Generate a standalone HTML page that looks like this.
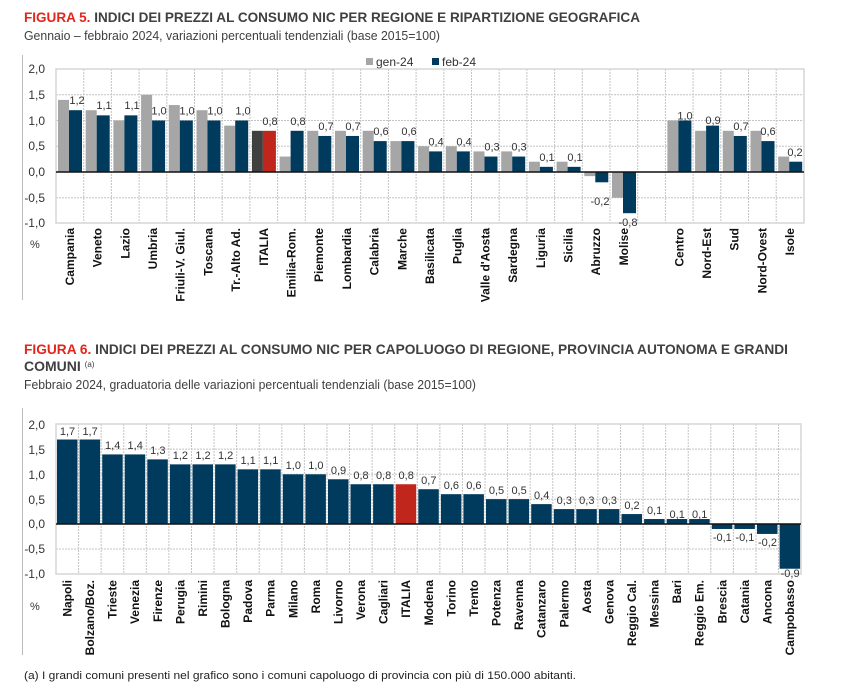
<!DOCTYPE html>
<html><head><meta charset="utf-8"><style>
html,body{margin:0;padding:0;background:#fff;}
svg{display:block;font-family:"Liberation Sans",Arial,sans-serif;}
.t{font-weight:bold;font-size:14px;fill:#404040}
.r{fill:#e3261b}
.s{font-size:12.5px;fill:#404040}
.yt{font-size:12px;fill:#333;text-anchor:end}
.v{font-size:11px;fill:#333;text-anchor:middle}
.c{font-size:12px;font-weight:bold;fill:#111;text-anchor:end}
.g{stroke:#c4c4c4;stroke-width:1;stroke-dasharray:2,1;fill:none}
</style></head><body>
<svg width="841" height="699" viewBox="0 0 841 699">
<text x="24" y="22" class="t" textLength="616" lengthAdjust="spacingAndGlyphs"><tspan class="r">FIGURA 5.</tspan> INDICI DEI PREZZI AL CONSUMO NIC PER REGIONE E RIPARTIZIONE GEOGRAFICA</text>
<text x="24" y="40" class="s" textLength="416" lengthAdjust="spacingAndGlyphs">Gennaio – febbraio 2024, variazioni percentuali tendenziali (base 2015=100)</text>
<line x1="22.5" y1="55" x2="22.5" y2="300" stroke="#bbb"/>
<!-- legend -->
<rect x="366" y="58" width="7" height="7" fill="#a6a6a6"/><text x="376" y="66" font-size="12" fill="#333">gen-24</text>
<rect x="432" y="58" width="7" height="7" fill="#003a5c"/><text x="442" y="66" font-size="12" fill="#333">feb-24</text>
<!-- chart1 grid -->
<g class="g">
<line x1="56" y1="94.75" x2="804" y2="94.75"/><line x1="56" y1="120.5" x2="804" y2="120.5"/><line x1="56" y1="146.25" x2="804" y2="146.25"/><line x1="56" y1="197.75" x2="804" y2="197.75"/>
<path d="M83.7 69V223M111.4 69V223M139.1 69V223M166.8 69V223M194.5 69V223M222.2 69V223M249.9 69V223M277.6 69V223M305.3 69V223M333 69V223M360.7 69V223M388.4 69V223M416.1 69V223M443.8 69V223M471.5 69V223M499.2 69V223M526.9 69V223M554.6 69V223M582.3 69V223M610 69V223M637.7 69V223M665.4 69V223M693.1 69V223M720.8 69V223M748.5 69V223M776.2 69V223"/>
</g>
<rect x="56" y="69" width="748" height="154" fill="none" stroke="#d6d6d6" stroke-width="1.5"/>
<g transform="translate(0,172) scale(1,-51.5)">
<g fill="#a6a6a6">
<rect x="58" y="0" width="11" height="1.4"/><rect x="85.7" y="0" width="11" height="1.2"/><rect x="113.4" y="0" width="11" height="1.0"/><rect x="141.1" y="0" width="11" height="1.5"/><rect x="168.8" y="0" width="11" height="1.3"/><rect x="196.5" y="0" width="11" height="1.2"/><rect x="224.2" y="0" width="11" height="0.9"/><rect x="251.9" y="0" width="11" height="0.8" fill="#404040"/><rect x="279.6" y="0" width="11" height="0.3"/><rect x="307.3" y="0" width="11" height="0.8"/><rect x="335" y="0" width="11" height="0.8"/><rect x="362.7" y="0" width="11" height="0.8"/><rect x="390.4" y="0" width="11" height="0.6"/><rect x="418.1" y="0" width="11" height="0.5"/><rect x="445.8" y="0" width="11" height="0.5"/><rect x="473.5" y="0" width="11" height="0.4"/><rect x="501.2" y="0" width="11" height="0.4"/><rect x="528.9" y="0" width="11" height="0.2"/><rect x="556.6" y="0" width="11" height="0.2"/><rect x="584.3" y="-0.08" width="11" height="0.08"/><rect x="612" y="-0.5" width="11" height="0.5"/><rect x="667.4" y="0" width="11" height="1.0"/><rect x="695.1" y="0" width="11" height="0.8"/><rect x="722.8" y="0" width="11" height="0.8"/><rect x="750.5" y="0" width="11" height="0.8"/><rect x="778.2" y="0" width="11" height="0.3"/>
</g>
<g fill="#003a5c">
<rect x="69" y="0" width="13" height="1.2"/><rect x="96.7" y="0" width="13" height="1.1"/><rect x="124.4" y="0" width="13" height="1.1"/><rect x="152.1" y="0" width="13" height="1.0"/><rect x="179.8" y="0" width="13" height="1.0"/><rect x="207.5" y="0" width="13" height="1.0"/><rect x="235.2" y="0" width="13" height="1.0"/><rect x="262.9" y="0" width="13" height="0.8" fill="#c0261b"/><rect x="290.6" y="0" width="13" height="0.8"/><rect x="318.3" y="0" width="13" height="0.7"/><rect x="346" y="0" width="13" height="0.7"/><rect x="373.7" y="0" width="13" height="0.6"/><rect x="401.4" y="0" width="13" height="0.6"/><rect x="429.1" y="0" width="13" height="0.4"/><rect x="456.8" y="0" width="13" height="0.4"/><rect x="484.5" y="0" width="13" height="0.3"/><rect x="512.2" y="0" width="13" height="0.3"/><rect x="539.9" y="0" width="13" height="0.1"/><rect x="567.6" y="0" width="13" height="0.1"/><rect x="595.3" y="-0.2" width="13" height="0.2"/><rect x="623" y="-0.8" width="13" height="0.8"/><rect x="678.4" y="0" width="13" height="1.0"/><rect x="706.1" y="0" width="13" height="0.9"/><rect x="733.8" y="0" width="13" height="0.7"/><rect x="761.5" y="0" width="13" height="0.6"/><rect x="789.2" y="0" width="13" height="0.2"/>
</g></g>
<line x1="56" y1="172" x2="804" y2="172" stroke="#111" stroke-width="1.5"/>
<g class="yt"><text x="45" y="73">2,0</text><text x="45" y="99">1,5</text><text x="45" y="125">1,0</text><text x="45" y="150">0,5</text><text x="45" y="176">0,0</text><text x="45" y="202">-0,5</text><text x="45" y="227">-1,0</text></g>
<text x="30" y="248" font-size="11" fill="#333">%</text>
<g class="v">
<text x="77" y="104">1,2</text><text x="104" y="109">1,1</text><text x="132" y="109">1,1</text><text x="159" y="114.5">1,0</text><text x="187" y="114.5">1,0</text><text x="215" y="114.5">1,0</text><text x="243" y="114.5">1,0</text><text x="270" y="125">0,8</text><text x="298" y="125">0,8</text><text x="326" y="130">0,7</text><text x="353" y="130">0,7</text><text x="381" y="135">0,6</text><text x="409" y="135">0,6</text><text x="436" y="145.5">0,4</text><text x="464" y="145.5">0,4</text><text x="492" y="150.5">0,3</text><text x="519" y="150.5">0,3</text><text x="547" y="161">0,1</text><text x="575" y="161">0,1</text><text x="600" y="205">-0,2</text><text x="628" y="226">-0,8</text><text x="685" y="119.5">1,0</text><text x="713" y="124">0,9</text><text x="741" y="130">0,7</text><text x="768" y="135">0,6</text><text x="795" y="156">0,2</text>
</g>
<g class="c">
<text transform="translate(74,228) rotate(-90)">Campania</text><text transform="translate(101.6,228) rotate(-90)">Veneto</text><text transform="translate(129.3,228) rotate(-90)">Lazio</text><text transform="translate(157,228) rotate(-90)">Umbria</text><text transform="translate(184.7,228) rotate(-90)">Friuli-V. Giul.</text><text transform="translate(212.4,228) rotate(-90)">Toscana</text><text transform="translate(240.1,228) rotate(-90)">Tr.-Alto Ad.</text><text transform="translate(267.8,228) rotate(-90)">ITALIA</text><text transform="translate(295.5,228) rotate(-90)">Emilia-Rom.</text><text transform="translate(323.2,228) rotate(-90)">Piemonte</text><text transform="translate(350.9,228) rotate(-90)">Lombardia</text><text transform="translate(378.6,228) rotate(-90)">Calabria</text><text transform="translate(406.3,228) rotate(-90)">Marche</text><text transform="translate(434,228) rotate(-90)">Basilicata</text><text transform="translate(461.7,228) rotate(-90)">Puglia</text><text transform="translate(489.4,228) rotate(-90)">Valle d'Aosta</text><text transform="translate(517.1,228) rotate(-90)">Sardegna</text><text transform="translate(544.8,228) rotate(-90)">Liguria</text><text transform="translate(572.5,228) rotate(-90)">Sicilia</text><text transform="translate(600.2,228) rotate(-90)">Abruzzo</text><text transform="translate(627.9,228) rotate(-90)">Molise</text><text transform="translate(683.3,228) rotate(-90)">Centro</text><text transform="translate(711,228) rotate(-90)">Nord-Est</text><text transform="translate(738.7,228) rotate(-90)">Sud</text><text transform="translate(766.4,228) rotate(-90)">Nord-Ovest</text><text transform="translate(794.1,228) rotate(-90)">Isole</text>
</g>

<!-- FIGURE 6 -->
<text x="24" y="354" class="t" textLength="764" lengthAdjust="spacingAndGlyphs"><tspan class="r">FIGURA 6.</tspan> INDICI DEI PREZZI AL CONSUMO NIC PER CAPOLUOGO DI REGIONE, PROVINCIA AUTONOMA E GRANDI</text>
<text x="24" y="371" class="t">COMUNI <tspan font-size="8" font-weight="normal" dy="-4">(a)</tspan></text>
<text x="24" y="389" class="s" textLength="452" lengthAdjust="spacingAndGlyphs">Febbraio 2024, graduatoria delle variazioni percentuali tendenziali (base 2015=100)</text>
<line x1="22.5" y1="408" x2="22.5" y2="655" stroke="#bbb"/>
<g class="g">
<line x1="56" y1="449.1" x2="801" y2="449.1"/><line x1="56" y1="474.3" x2="801" y2="474.3"/><line x1="56" y1="499.2" x2="801" y2="499.2"/><line x1="56" y1="549" x2="801" y2="549"/>
<path d="M78.58 424V574M101.16 424V574M123.74 424V574M146.32 424V574M168.9 424V574M191.48 424V574M214.06 424V574M236.64 424V574M259.22 424V574M281.8 424V574M304.38 424V574M326.96 424V574M349.54 424V574M372.12 424V574M394.7 424V574M417.28 424V574M439.86 424V574M462.44 424V574M485.02 424V574M507.6 424V574M530.18 424V574M552.76 424V574M575.34 424V574M597.92 424V574M620.5 424V574M643.08 424V574M665.66 424V574M688.24 424V574M710.82 424V574M733.4 424V574M755.98 424V574M778.56 424V574"/>
</g>
<rect x="56" y="424" width="745" height="150" fill="none" stroke="#d6d6d6" stroke-width="1.5"/>
<g transform="translate(0,524) scale(1,-49.7)" fill="#003a5c">
<rect x="57" y="0" width="20.5" height="1.7"/><rect x="79.6" y="0" width="20.5" height="1.7"/><rect x="102.2" y="0" width="20.5" height="1.4"/><rect x="124.7" y="0" width="20.5" height="1.4"/><rect x="147.3" y="0" width="20.5" height="1.3"/><rect x="169.9" y="0" width="20.5" height="1.2"/><rect x="192.5" y="0" width="20.5" height="1.2"/><rect x="215.1" y="0" width="20.5" height="1.2"/><rect x="237.6" y="0" width="20.5" height="1.1"/><rect x="260.2" y="0" width="20.5" height="1.1"/><rect x="282.8" y="0" width="20.5" height="1.0"/><rect x="305.4" y="0" width="20.5" height="1.0"/><rect x="328" y="0" width="20.5" height="0.9"/><rect x="350.5" y="0" width="20.5" height="0.8"/><rect x="373.1" y="0" width="20.5" height="0.8"/><rect x="395.7" y="0" width="20.5" height="0.8" fill="#c0261b"/><rect x="418.3" y="0" width="20.5" height="0.7"/><rect x="440.9" y="0" width="20.5" height="0.6"/><rect x="463.4" y="0" width="20.5" height="0.6"/><rect x="486" y="0" width="20.5" height="0.5"/><rect x="508.6" y="0" width="20.5" height="0.5"/><rect x="531.2" y="0" width="20.5" height="0.4"/><rect x="553.8" y="0" width="20.5" height="0.3"/><rect x="576.3" y="0" width="20.5" height="0.3"/><rect x="598.9" y="0" width="20.5" height="0.3"/><rect x="621.5" y="0" width="20.5" height="0.2"/><rect x="644.1" y="0" width="20.5" height="0.1"/><rect x="666.7" y="0" width="20.5" height="0.1"/><rect x="689.2" y="0" width="20.5" height="0.1"/><rect x="711.8" y="-0.1" width="20.5" height="0.1"/><rect x="734.4" y="-0.1" width="20.5" height="0.1"/><rect x="757" y="-0.2" width="20.5" height="0.2"/><rect x="779.6" y="-0.9" width="20.5" height="0.9"/>
</g>
<line x1="56" y1="524" x2="801" y2="524" stroke="#111" stroke-width="1.5"/>
<g class="yt"><text x="45" y="429">2,0</text><text x="45" y="454">1,5</text><text x="45" y="479">1,0</text><text x="45" y="504">0,5</text><text x="45" y="528">0,0</text><text x="45" y="553">-0,5</text><text x="45" y="578">-1,0</text></g>
<text x="30" y="610" font-size="11" fill="#333">%</text>
<g class="v">
<text x="67.5" y="435">1,7</text><text x="90.1" y="435">1,7</text><text x="112.7" y="449">1,4</text><text x="135.2" y="449">1,4</text><text x="157.8" y="454">1,3</text><text x="180.4" y="459">1,2</text><text x="203" y="459">1,2</text><text x="225.6" y="459">1,2</text><text x="248.1" y="464">1,1</text><text x="270.7" y="464">1,1</text><text x="293.3" y="469">1,0</text><text x="315.9" y="469">1,0</text><text x="338.5" y="474">0,9</text><text x="361" y="479">0,8</text><text x="383.6" y="479">0,8</text><text x="406.2" y="479">0,8</text><text x="428.8" y="484">0,7</text><text x="451.4" y="489">0,6</text><text x="473.9" y="489">0,6</text><text x="496.5" y="494">0,5</text><text x="519.1" y="494">0,5</text><text x="541.7" y="499">0,4</text><text x="564.3" y="504">0,3</text><text x="586.8" y="504">0,3</text><text x="609.4" y="504">0,3</text><text x="632" y="509">0,2</text><text x="654.6" y="514">0,1</text><text x="677.2" y="518">0,1</text><text x="699.7" y="518">0,1</text><text x="722.3" y="541">-0,1</text><text x="744.9" y="541">-0,1</text><text x="767.5" y="546">-0,2</text><text x="790.1" y="577">-0,9</text>
</g>
<g class="c">
<text transform="translate(71.5,580) rotate(-90)">Napoli</text><text transform="translate(94.1,580) rotate(-90)">Bolzano/Boz.</text><text transform="translate(116.7,580) rotate(-90)">Trieste</text><text transform="translate(139.2,580) rotate(-90)">Venezia</text><text transform="translate(161.8,580) rotate(-90)">Firenze</text><text transform="translate(184.4,580) rotate(-90)">Perugia</text><text transform="translate(207,580) rotate(-90)">Rimini</text><text transform="translate(229.6,580) rotate(-90)">Bologna</text><text transform="translate(252.1,580) rotate(-90)">Padova</text><text transform="translate(274.7,580) rotate(-90)">Parma</text><text transform="translate(297.3,580) rotate(-90)">Milano</text><text transform="translate(319.9,580) rotate(-90)">Roma</text><text transform="translate(342.5,580) rotate(-90)">Livorno</text><text transform="translate(365,580) rotate(-90)">Verona</text><text transform="translate(387.6,580) rotate(-90)">Cagliari</text><text transform="translate(410.2,580) rotate(-90)">ITALIA</text><text transform="translate(432.8,580) rotate(-90)">Modena</text><text transform="translate(455.4,580) rotate(-90)">Torino</text><text transform="translate(477.9,580) rotate(-90)">Trento</text><text transform="translate(500.5,580) rotate(-90)">Potenza</text><text transform="translate(523.1,580) rotate(-90)">Ravenna</text><text transform="translate(545.7,580) rotate(-90)">Catanzaro</text><text transform="translate(568.3,580) rotate(-90)">Palermo</text><text transform="translate(590.8,580) rotate(-90)">Aosta</text><text transform="translate(613.4,580) rotate(-90)">Genova</text><text transform="translate(636,580) rotate(-90)">Reggio Cal.</text><text transform="translate(658.6,580) rotate(-90)">Messina</text><text transform="translate(681.2,580) rotate(-90)">Bari</text><text transform="translate(703.7,580) rotate(-90)">Reggio Em.</text><text transform="translate(726.3,580) rotate(-90)">Brescia</text><text transform="translate(748.9,580) rotate(-90)">Catania</text><text transform="translate(771.5,580) rotate(-90)">Ancona</text><text transform="translate(794.1,580) rotate(-90)">Campobasso</text>
</g>
<text x="24" y="679" font-size="11" fill="#222" textLength="552" lengthAdjust="spacingAndGlyphs">(a)  I grandi comuni presenti nel grafico sono i comuni capoluogo di provincia con più di 150.000 abitanti.</text>
</svg>
</body></html>
